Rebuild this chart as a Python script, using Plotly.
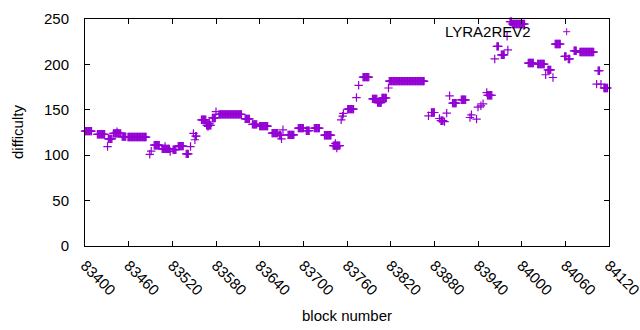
import plotly.graph_objects as go

# Runs of constant difficulty: first block, last block, difficulty
seg_start = [83400, 83417, 83431, 83432, 83439, 83444, 83451, 83459, 83489, 83491,
             83495, 83506, 83510, 83517, 83521, 83528, 83539, 83545, 83549, 83551,
             83552, 83560, 83567, 83569, 83571, 83575, 83580, 83584, 83620, 83630,
             83640, 83657, 83667, 83670, 83672, 83679, 83693, 83704, 83715, 83729,
             83741, 83744, 83746, 83752, 83754, 83755, 83761, 83773, 83776, 83782,
             83795, 83802, 83808, 83817, 83818, 83872, 83876, 83887, 83889, 83894,
             83897, 83901, 83905, 83917, 83929, 83931, 83938, 83940, 83944, 83947,
             83952, 83953, 83963, 83966, 83972, 83980, 83981, 83984, 83987, 84009,
             84022, 84033, 84036, 84043, 84046, 84059, 84064, 84072, 84080, 84103,
             84105, 84109, 84113]
seg_end = [83409, 83427, 83431, 83437, 83449, 83444, 83456, 83484, 83489, 83491,
           83502, 83516, 83510, 83517, 83525, 83535, 83542, 83545, 83549, 83551,
           83553, 83566, 83573, 83569, 83571, 83579, 83580, 83615, 83626, 83636,
           83651, 83665, 83669, 83670, 83672, 83687, 83700, 83708, 83722, 83738,
           83750, 83744, 83746, 83752, 83754, 83755, 83769, 83773, 83776, 83790,
           83801, 83807, 83814, 83817, 83866, 83872, 83880, 83887, 83892, 83894,
           83897, 83901, 83910, 83923, 83929, 83931, 83938, 83940, 83944, 83947,
           83952, 83959, 83963, 83968, 83976, 83980, 83981, 83986, 84004, 84016,
           84031, 84033, 84040, 84043, 84053, 84061, 84066, 84075, 84099, 84103,
           84107, 84109, 84118]
seg_value = [126.5, 123, 109.5, 118, 124, 126, 120.5, 120, 101, 104.5,
             111, 107, 109.5, 104, 106, 110, 101.5, 109.5, 124, 117,
             121, 139, 133, 131.6, 135, 141, 148, 145, 140, 134,
             132, 124.3, 122, 118, 128, 122.4, 129.8, 127, 129.8, 122,
             110.5, 113, 108, 139, 143, 146, 150.7, 163.5, 177, 186,
             162, 158, 163, 174, 181.6, 143.4, 147, 140.4, 138, 137,
             146.3, 165.4, 157.4, 161, 141.5, 144.5, 139.7, 153, 154.4, 156.6,
             169, 166, 206, 219.8, 210.6, 231, 216, 247, 244.5, 201.5,
             200.4, 188.6, 194, 185.6, 222.4, 208.8, 206, 215, 213.6, 178.3,
             193, 178.3, 174]

series_name = "LYRA2REV2"
x_title = "block number"
y_title = "difficulty"
x_ticks = list(range(83400, 84121, 60))
y_ticks = [0, 50, 100, 150, 200, 250]

blocks, diffs = [], []
for s, e, v in zip(seg_start, seg_end, seg_value):
    for b in range(s, e + 1):
        blocks.append(b)
        diffs.append(v)

color = "#9400D3"
font = dict(family="Liberation Sans, Arial, sans-serif", size=15, color="black")

fig = go.Figure()
fig.add_trace(go.Scatter(
    x=blocks, y=diffs, mode="markers", name=series_name, showlegend=False,
    marker=dict(symbol="cross-thin", size=6, color=color,
                line=dict(width=1.2, color=color)),
    cliponaxis=False,
))

axis_common = dict(showline=True, linecolor="black", linewidth=1, mirror="ticks",
                   ticks="inside", ticklen=5, tickcolor="black", showgrid=False,
                   zeroline=False, tickfont=font, automargin=False,
                   ticklabeloverflow="allow")
fig.update_xaxes(range=[83400, 84120], tickvals=x_ticks,
                 ticktext=[str(t) for t in x_ticks], tickangle=45,
                 ticklabelstandoff=4, **axis_common)
fig.update_yaxes(range=[0, 250], tickvals=y_ticks, ticklabelstandoff=12,
                 **axis_common)

L, R, T, B = 84.5, 609.4, 19.3, 246.0
pw, ph = R - L, B - T
fig.update_layout(
    width=640, height=330,
    margin=dict(l=L, r=640 - R, t=T, b=330 - B, pad=0, autoexpand=False),
    paper_bgcolor="white", plot_bgcolor="white",
    font=font,
    annotations=[
        dict(text=x_title, xref="paper", yref="paper", x=0.5, y=0,
             yshift=-(315 - B), showarrow=False, font=font,
             xanchor="center", yanchor="middle"),
        dict(text=y_title, xref="paper", yref="paper", x=0, y=0.5,
             xshift=-(L - 17), textangle=-90, showarrow=False, font=font,
             xanchor="center", yanchor="middle"),
        dict(text=series_name, xref="paper", yref="paper",
             x=(533 - L) / pw, y=(B - 32) / ph, showarrow=False, font=font,
             xanchor="right", yanchor="middle"),
    ],
    shapes=[
        dict(type="line", xref="paper", yref="paper",
             x0=(563.5 - L) / pw, x1=(570.5 - L) / pw,
             y0=(B - 32) / ph, y1=(B - 32) / ph, line=dict(color=color, width=1)),
        dict(type="line", xref="paper", yref="paper",
             x0=(567 - L) / pw, x1=(567 - L) / pw,
             y0=(B - 28.5) / ph, y1=(B - 35.5) / ph, line=dict(color=color, width=1)),
    ],
)

fig.write_html("out.html", config={"displayModeBar": False},
               post_script="document.body.style.margin='0px';"
                           "document.body.style.overflow='hidden';")
